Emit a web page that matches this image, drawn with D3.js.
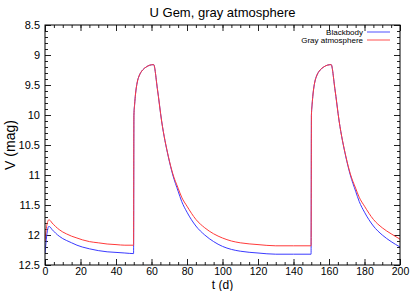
<!DOCTYPE html>
<html>
<head>
<meta charset="utf-8">
<script src="https://cdn.jsdelivr.net/npm/d3@7"></script>
<style>
  body { margin: 0; background: #fff; }
  svg { display: block; font-family: "Liberation Sans", Arial, sans-serif; }
</style>
</head>
<body>
<svg id="chart" width="415" height="291"></svg>
<script>
// time (days)
var tDays = [0, 0.5, 1, 1.5, 2, 2.5, 3, 4, 5, 6, 8, 10, 12, 15, 18, 21, 25, 30, 35, 40, 45, 49.9,
    50.1, 50.5, 51, 52, 53, 54, 55, 57, 59, 61.2, 63.3, 65.7, 69.5, 72, 75, 77, 80, 85, 90, 95, 100,
    105, 110, 120, 130, 140, 149.9,
    150.1, 150.5, 151, 152, 153, 154, 155, 157, 159, 161.2, 163.3, 165.7, 169.5, 172, 175, 177, 180,
    185, 190, 195, 200];

// V magnitude, blackbody
var blackbody = [12.30, 12.15, 12.00, 11.91, 11.86, 11.86, 11.87, 11.91, 11.94, 11.97, 12.02, 12.06,
    12.09, 12.13, 12.17, 12.20, 12.23, 12.26, 12.28, 12.29, 12.30, 12.31,
    10.00, 9.82, 9.65, 9.45, 9.35, 9.29, 9.25, 9.20, 9.17, 9.16, 9.56, 10.10, 10.70, 11.00, 11.27,
    11.44, 11.62, 11.85, 12.00, 12.11, 12.19,
    12.24, 12.27, 12.30, 12.32, 12.32, 12.32,
    10.00, 9.82, 9.65, 9.45, 9.35, 9.29, 9.25, 9.20, 9.17, 9.16, 9.56, 10.10, 10.70, 11.00, 11.27,
    11.44, 11.62, 11.85, 12.00, 12.11, 12.20];

// V magnitude, gray atmosphere
var grayAtm = [12.10, 11.95, 11.84, 11.78, 11.75, 11.75, 11.76, 11.80, 11.83, 11.86, 11.91, 11.95,
    11.98, 12.02, 12.05, 12.08, 12.11, 12.13, 12.15, 12.16, 12.17, 12.17,
    10.00, 9.82, 9.65, 9.45, 9.35, 9.29, 9.25, 9.20, 9.17, 9.16, 9.56, 10.10, 10.69, 10.98, 11.22,
    11.37, 11.52, 11.74, 11.88, 11.98, 12.05,
    12.10, 12.13, 12.16, 12.18, 12.18, 12.18,
    10.00, 9.82, 9.65, 9.45, 9.35, 9.29, 9.25, 9.20, 9.17, 9.16, 9.56, 10.10, 10.69, 10.98, 11.22,
    11.37, 11.52, 11.74, 11.88, 11.98, 12.07];

var seriesNames = ['Blackbody', 'Gray atmosphere'];
var seriesColors = ['#3a3aff', '#ff3a3a'];

var xTicks = [0, 20, 40, 60, 80, 100, 120, 140, 160, 180, 200];
var yTicks = [8.5, 9, 9.5, 10, 10.5, 11, 11.5, 12, 12.5];

var margin = { left: 45, right: 15, top: 25, bottom: 26 };
var W = 415, H = 291;

var svg = d3.select('#chart');

var x = d3.scaleLinear().domain([0, 200]).range([margin.left, W - margin.right]);
var y = d3.scaleLinear().domain([8.5, 12.5]).range([margin.top, H - margin.bottom]);

var x0 = margin.left, x1 = W - margin.right, y0 = margin.top, y1 = H - margin.bottom;

// minor ticks
var xMinor = d3.range(0, 200.1, 5);
var yMinor = d3.range(85, 125.1, 1).map(function (d) { return d / 10; });

function addAxis(axisFn, scale, ticks, size, transform, labels, pad) {
    var a = axisFn(scale).tickValues(ticks).tickSize(size).tickPadding(pad || 5);
    if (!labels) a.tickFormat('');
    else a.tickFormat(d3.format('~g'));
    var g = svg.append('g').attr('transform', transform).call(a);
    g.select('.domain').remove();
    g.selectAll('line').attr('stroke', '#222').attr('stroke-width', 1);
    g.selectAll('text').attr('font-size', 11).attr('fill', '#000')
        .attr('font-family', '"Liberation Sans", Arial, sans-serif');
    return g;
}

// minor ticks, all sides, inward
addAxis(d3.axisBottom, x, xMinor, -3, 'translate(0,' + y1 + ')', false);
addAxis(d3.axisTop, x, xMinor, -3, 'translate(0,' + y0 + ')', false);
addAxis(d3.axisLeft, y, yMinor, -3, 'translate(' + x0 + ',0)', false);
addAxis(d3.axisRight, y, yMinor, -3, 'translate(' + x1 + ',0)', false);

// major ticks
addAxis(d3.axisBottom, x, xTicks, -6, 'translate(0,' + y1 + ')', true, 3)
    .selectAll('text').attr('font-size', 10.5);
addAxis(d3.axisTop, x, xTicks, -6, 'translate(0,' + y0 + ')', false);
addAxis(d3.axisLeft, y, yTicks, -6, 'translate(' + x0 + ',0)', true);
addAxis(d3.axisRight, y, yTicks, -6, 'translate(' + x1 + ',0)', false);

// curves
var series = [blackbody, grayAtm];
var line = d3.line()
    .x(function (d) { return x(d[0]); })
    .y(function (d) { return y(d[1]); })
    .curve(d3.curveMonotoneX);

svg.append('defs').append('clipPath').attr('id', 'plotclip')
    .append('rect').attr('x', x0).attr('y', y0).attr('width', x1 - x0).attr('height', y1 - y0);

series.forEach(function (vals, i) {
    var pts = tDays.map(function (t, j) { return [t, vals[j]]; });
    svg.append('path')
        .datum(pts)
        .attr('d', line)
        .attr('fill', 'none')
        .attr('clip-path', 'url(#plotclip)')
        .attr('stroke', seriesColors[i])
        .attr('stroke-width', 1);
});

// frame
svg.append('rect')
    .attr('x', x0).attr('y', y0)
    .attr('width', x1 - x0).attr('height', y1 - y0)
    .attr('fill', 'none').attr('stroke', '#000').attr('stroke-width', 1);

// legend
var legend = svg.append('g');
seriesNames.forEach(function (name, i) {
    var ly = 32 + i * 8;
    legend.append('text')
        .attr('x', 363).attr('y', ly + 3)
        .attr('text-anchor', 'end')
        .attr('font-size', 8)
        .text(name);
    legend.append('line')
        .attr('x1', 367).attr('x2', 390)
        .attr('y1', ly).attr('y2', ly)
        .attr('stroke', seriesColors[i])
        .attr('stroke-opacity', 0.6)
        .attr('stroke-width', 1.5);
});

// title and axis labels
svg.append('text')
    .attr('x', (x0 + x1) / 2).attr('y', 17)
    .attr('text-anchor', 'middle')
    .attr('font-size', 13)
    .text('U Gem, gray atmosphere');

svg.append('text')
    .attr('x', (x0 + x1) / 2).attr('y', 288.5)
    .attr('text-anchor', 'middle')
    .attr('font-size', 12)
    .text('t (d)');

svg.append('text')
    .attr('transform', 'translate(15,' + ((y0 + y1) / 2) + ') rotate(-90)')
    .attr('text-anchor', 'middle')
    .attr('font-size', 14)
    .text('V (mag)');
</script>
</body>
</html>
